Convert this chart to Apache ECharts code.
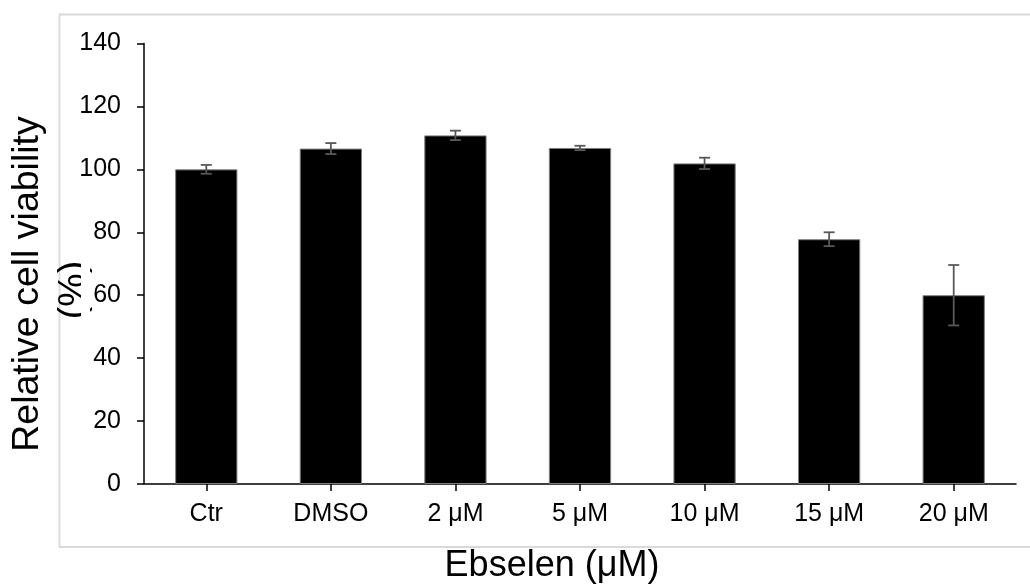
<!DOCTYPE html>
<html>
<head>
<meta charset="utf-8">
<script src="https://cdn.jsdelivr.net/npm/echarts@6/dist/echarts.min.js"></script>
<style>
html,body{margin:0;padding:0;background:#fff;}
#chart{width:1030px;height:585px;}
</style>
</head>
<body>
<div id="chart"></div>
<script>
var categories = ['Ctr', 'DMSO', '2 μM', '5 μM', '10 μM', '15 μM', '20 μM'];
var viability = [100.0, 106.6, 110.8, 106.8, 101.9, 77.8, 60.0];
var errors = [1.4, 1.75, 1.5, 0.7, 1.8, 2.2, 9.6];
var yTicks = {min: 0, max: 140, interval: 20};

var FONT = '"Liberation Sans", Arial, sans-serif';
var chart = echarts.init(document.getElementById('chart'));

var errData = categories.map(function (c, i) {
  return [i, viability[i] - errors[i], viability[i] + errors[i]];
});

var option = {
  animation: false,
  backgroundColor: '#ffffff',
  grid: {left: 144, right: 14, top: 43.5, bottom: 101, containLabel: false},
  xAxis: {
    type: 'category',
    data: categories,
    axisLine: {lineStyle: {color: '#000', width: 1.5}},
    axisTick: {show: true, alignWithLabel: true, length: 7, lineStyle: {color: '#000', width: 1.5}},
    axisLabel: {color: '#000', fontSize: 25, fontFamily: FONT, margin: 18}
  },
  yAxis: {
    type: 'value',
    min: yTicks.min, max: yTicks.max, interval: yTicks.interval,
    axisLine: {show: true, lineStyle: {color: '#000', width: 1.5}},
    axisTick: {show: true, length: 7, lineStyle: {color: '#000', width: 1.5}},
    splitLine: {show: false},
    axisLabel: {color: '#000', fontSize: 25, fontFamily: FONT, margin: 23}
  },
  series: [
    {
      type: 'bar',
      data: viability,
      barWidth: '50%',
      itemStyle: {color: '#000', borderColor: '#7f7f7f', borderWidth: 1}
    },
    {
      type: 'custom',
      data: errData,
      z: 5,
      renderItem: function (params, api) {
        var x = api.value(0);
        var lo = api.coord([x, api.value(1)]);
        var hi = api.coord([x, api.value(2)]);
        var hw = 5.5;
        var st = {stroke: '#595959', lineWidth: 1.8};
        return {
          type: 'group',
          children: [
            {type: 'line', shape: {x1: lo[0], y1: lo[1], x2: hi[0], y2: hi[1]}, style: st},
            {type: 'line', shape: {x1: lo[0] - hw, y1: lo[1], x2: lo[0] + hw, y2: lo[1]}, style: st},
            {type: 'line', shape: {x1: hi[0] - hw, y1: hi[1], x2: hi[0] + hw, y2: hi[1]}, style: st}
          ]
        };
      }
    }
  ],
  graphic: [
    {type: 'rect', z: -10, shape: {x: 59.5, y: 14.5, width: 1000, height: 532.5},
     style: {fill: 'none', stroke: '#d9d9d9', lineWidth: 1.8}, silent: true},
    {type: 'text', x: 28, y: 284, rotation: Math.PI / 2, z: 10,
     style: {text: 'Relative cell viability', font: '37.5px ' + FONT, fill: '#000', textAlign: 'center', textVerticalAlign: 'middle'}},
    {type: 'text', x: 74, y: 290, rotation: Math.PI / 2, z: 10,
     style: {text: '(%)', font: '37.5px ' + FONT, fill: '#000', textAlign: 'center', textVerticalAlign: 'middle'}},
    {type: 'rect', z: 11, shape: {x: 81, y: 250, width: 9, height: 80}, style: {fill: '#fff'}},
    {type: 'text', x: 552, y: 566, z: 10,
     style: {text: 'Ebselen (μM)', font: '36px ' + FONT, fill: '#000', textAlign: 'center', textVerticalAlign: 'middle'}}
  ]
};
chart.setOption(option);
</script>
</body>
</html>
